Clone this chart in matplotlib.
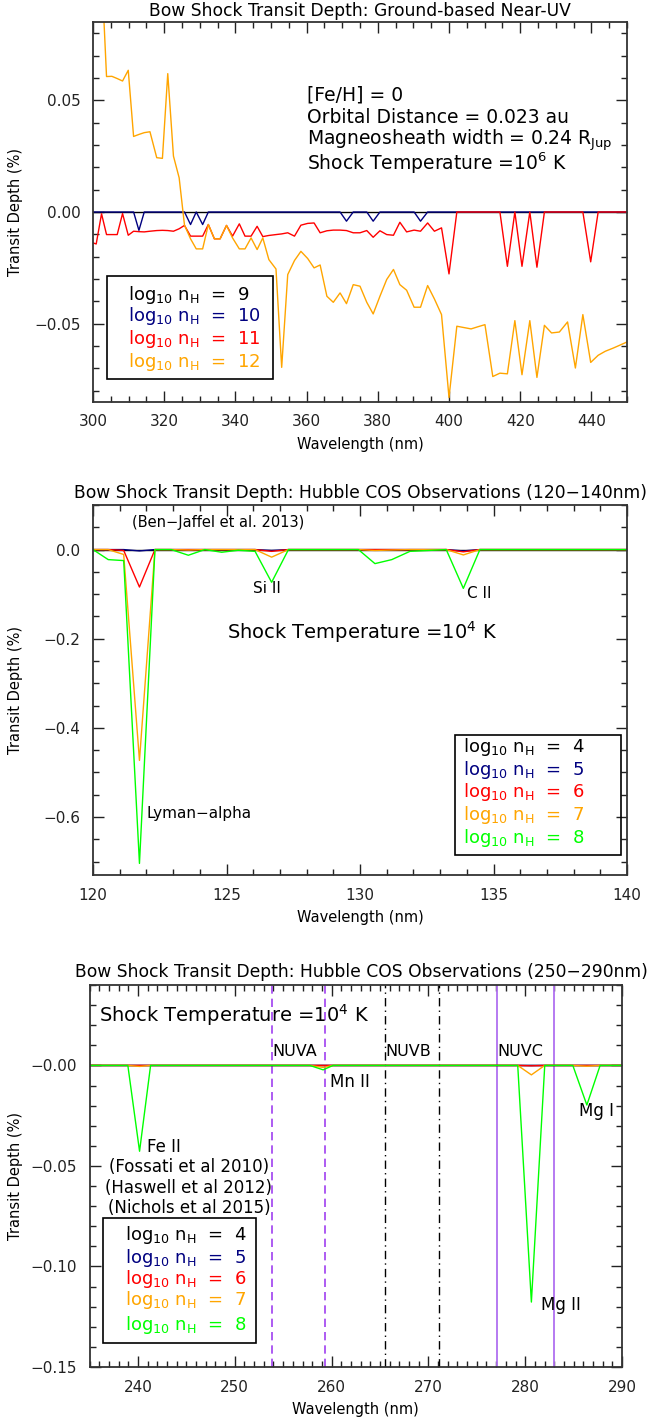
import matplotlib
matplotlib.use("Agg")
import matplotlib.pyplot as plt
from matplotlib.patches import Rectangle
from matplotlib.ticker import MultipleLocator, FixedLocator, FixedFormatter

plt.rcParams['font.family'] = ['DejaVu Sans']
plt.rcParams['mathtext.fontset'] = 'dejavusans'

# ---------------- panel 1 : ground based near-UV (log nH = 9..12, T = 1e6 K)
wl_nuv = [299.4, 300.9, 302.4, 303.8, 305.3, 306.8, 308.3, 309.9, 311.4, 312.9,
          314.4, 316.0, 317.9, 319.5, 321.0, 322.6, 324.2, 325.7, 327.4, 329.0,
          330.8, 332.4, 334.1, 335.7, 337.5, 339.2, 341.1, 342.7, 344.4, 346.1,
          347.7, 349.4, 351.4, 353.0, 354.7, 356.6, 358.4, 360.3, 362.1, 363.8,
          365.7, 367.5, 369.4, 371.2, 373.1, 375.0, 376.9, 378.7, 380.6, 382.5,
          384.4, 386.2, 388.1, 390.2, 392.0, 394.0, 395.9, 397.9, 400.0, 402.2,
          404.2, 406.2, 408.2, 410.1, 412.3, 414.3, 416.4, 418.5, 420.5, 422.7,
          424.7, 426.8, 428.8, 431.0, 433.3, 435.5, 437.6, 439.8, 441.9, 443.9,
          446.1, 448.1, 450.2]

nuv_n9 = [0.0] * len(wl_nuv)

nuv_n10 = [0.0, 0.0, 0.0, 0.0, 0.0, 0.0, 0.0, 0.0, 0.0, -0.0082,
           0.0, 0.0, 0.0, 0.0, 0.0, 0.0, 0.0, 0.0, -0.0056, 0.0,
           -0.0056, 0.0, 0.0, 0.0, 0.0, 0.0, 0.0, 0.0, 0.0, 0.0,
           0.0, 0.0, 0.0, 0.0, 0.0, 0.0, 0.0, 0.0, 0.0, 0.0,
           0.0, 0.0, 0.0, -0.0041, 0.0, 0.0, 0.0, -0.0041, 0.0, 0.0,
           0.0, 0.0, 0.0, 0.0, -0.0041, 0.0, 0.0, 0.0, 0.0, 0.0,
           0.0, 0.0, 0.0, 0.0, 0.0, 0.0, 0.0, 0.0, 0.0, 0.0,
           0.0, 0.0, 0.0, 0.0, 0.0, 0.0, 0.0, 0.0, 0.0, 0.0,
           0.0, 0.0, 0.0]

nuv_n11 = [-0.0135, -0.0143, -0.0008, -0.0101, -0.0101, -0.0101, -0.0007, -0.0104, -0.0086, -0.0088,
           -0.0089, -0.0086, -0.0083, -0.0082, -0.0083, -0.0086, -0.0075, -0.0060, -0.0108, -0.0108,
           -0.0108, -0.0056, -0.0120, -0.0120, -0.0060, -0.0108, -0.0053, -0.0108, -0.0108, -0.0064,
           -0.0110, -0.0105, -0.0101, -0.0098, -0.0093, -0.0108, -0.0059, -0.0051, -0.0049, -0.0093,
           -0.0084, -0.0081, -0.0081, -0.0083, -0.0093, -0.0093, -0.0083, -0.0113, -0.0084, -0.0101,
           -0.0104, -0.0046, -0.0089, -0.0081, -0.0086, -0.0049, -0.0086, -0.0071, -0.0277, 0.0,
           0.0, 0.0, 0.0, 0.0, 0.0, 0.0, -0.0243, 0.0, -0.0243, 0.0,
           -0.0247, 0.0, 0.0, 0.0, 0.0, 0.0, 0.0, -0.0223, 0.0, 0.0,
           0.0, 0.0, 0.0]

nuv_n12 = [0.150, 0.130, 0.109, 0.0606, 0.0607, 0.0597, 0.0586, 0.0634, 0.0338, 0.0347,
           0.0355, 0.0359, 0.0243, 0.0240, 0.0619, 0.0250, 0.0153, -0.0059, -0.0120, -0.0165,
           -0.0165, -0.0056, -0.0120, -0.0120, -0.0060, -0.0116, -0.0165, -0.0165, -0.0116, -0.0168,
           -0.0116, -0.0213, -0.0255, -0.0695, -0.0280, -0.0217, -0.0176, -0.0208, -0.0250, -0.0237,
           -0.0377, -0.0404, -0.0362, -0.0410, -0.0325, -0.0332, -0.0404, -0.0456, -0.0377, -0.0302,
           -0.0257, -0.0325, -0.0350, -0.0426, -0.0426, -0.0329, -0.0389, -0.0459, -0.0830, -0.0511,
           -0.0517, -0.0523, -0.0513, -0.0504, -0.0736, -0.0721, -0.0724, -0.0486, -0.0728, -0.0486,
           -0.0740, -0.0507, -0.0541, -0.0537, -0.0492, -0.0698, -0.0459, -0.0673, -0.0641, -0.0623,
           -0.0609, -0.0595, -0.0580]

# ---------------- panel 2 : COS 120-140 nm (log nH = 4..8, T = 1e4 K)
wl_fuv = [120.00, 120.57, 121.15, 121.74, 122.32, 122.93, 123.57, 124.19, 124.82, 125.44,
          126.07, 126.69, 127.32, 127.97, 128.63, 129.29, 129.94, 130.56, 131.19, 131.87,
          132.55, 133.23, 133.87, 134.49, 135.12, 135.75, 136.38, 137.01, 137.64, 138.27,
          138.90, 139.53, 140.16]

fuv_n4 = [0.0] * len(wl_fuv)
fuv_n5 = [0.0, 0.0, 0.0, -0.003, 0.0, 0.0, 0.0, 0.0, 0.0, 0.0,
          0.0, -0.002, 0.0, 0.0, 0.0, 0.0, 0.0, 0.0, 0.0, 0.0,
          0.0, 0.0, -0.003, 0.0, 0.0, 0.0, 0.0, 0.0, 0.0, 0.0,
          0.0, 0.0, 0.0]
fuv_n6 = [0.0, 0.0, -0.002, -0.084, 0.0, 0.0, 0.0, 0.0, 0.0, 0.0,
          0.0, -0.004, 0.0, 0.0, 0.0, 0.0, 0.0, 0.0, 0.0, 0.0,
          0.0, 0.0, -0.005, 0.0, 0.0, 0.0, 0.0, 0.0, 0.0, 0.0,
          0.0, 0.0, 0.0]
fuv_n7 = [0.0, 0.0, -0.011, -0.473, 0.0, 0.0, -0.001, 0.0, 0.0, 0.0,
          0.0, -0.017, 0.0, 0.0, 0.0, 0.0, 0.0, -0.002, -0.001, 0.0,
          0.0, 0.0, -0.012, 0.0, 0.0, 0.0, 0.0, 0.0, 0.0, 0.0,
          0.0, 0.0, 0.0]
fuv_n8 = [0.0, -0.0225, -0.0247, -0.704, 0.0, 0.0, -0.0127, 0.0, -0.006, -0.0015,
          -0.004, -0.0734, 0.0, 0.0, 0.0, 0.0, 0.0, -0.0315, -0.0225, -0.004,
          -0.002, 0.0, -0.087, 0.0, 0.0, 0.0, 0.0, 0.0, 0.0, 0.0,
          0.0, 0.0, 0.0]

# ---------------- panel 3 : COS 250-290 nm (log nH = 4..8, T = 1e4 K)
wl_mid = [235.0, 237.7, 238.96, 240.17, 241.31, 244.0, 247.0, 250.0, 253.0, 256.0,
          257.75, 259.13, 260.16, 263.0, 266.0, 269.0, 272.0, 275.0, 277.8, 279.23,
          280.64, 282.02, 283.5, 284.92, 286.37, 287.74, 289.1, 290.5]

mid_n4 = [0.0] * len(wl_mid)
mid_n5 = [0.0] * len(wl_mid)
mid_n6 = [0.0, 0.0, 0.0, 0.0, 0.0, 0.0, 0.0, 0.0, 0.0, 0.0,
          0.0, 0.0, 0.0, 0.0, 0.0, 0.0, 0.0, 0.0, 0.0, 0.0,
          -0.0002, 0.0, 0.0, 0.0, 0.0, 0.0, 0.0, 0.0]
mid_n7 = [0.0, 0.0, 0.0, -0.0005, 0.0, 0.0, 0.0, 0.0, 0.0, 0.0,
          0.0, -0.001, 0.0, 0.0, 0.0, 0.0, 0.0, 0.0, 0.0, 0.0,
          -0.0047, 0.0, 0.0, 0.0, -0.0004, 0.0, 0.0, 0.0]
mid_n8 = [0.0, 0.0, 0.0, -0.0427, 0.0, 0.0, 0.0, 0.0, 0.0, 0.0,
          0.0, -0.0022, 0.0, 0.0, 0.0, 0.0, 0.0, 0.0, 0.0, 0.0,
          -0.1177, 0.0, 0.0, 0.0, -0.0197, 0.0, 0.0, 0.0]

nuva_edges = [253.85, 259.37]
nuvb_edges = [265.5, 271.1]
nuvc_edges = [277.05, 283.0]

c_black, c_blue, c_red, c_orange, c_green = 'black', '#000080', '#ff0000', '#ffa500', '#00ff00'
W, H = 655, 1418
title_fs = 12.3

fig = plt.figure(figsize=(W / 100, H / 100), dpi=100)


def add_ax(l, t, r, b):
    return fig.add_axes([l / W, 1 - b / H, (r - l) / W, (b - t) / H])


def style(ax, xmaj, xmin, ymin_step, left_px, width_px, height_px):
    ax.xaxis.set_major_locator(MultipleLocator(xmaj))
    ax.xaxis.set_minor_locator(MultipleLocator(xmin))
    ax.yaxis.set_minor_locator(MultipleLocator(ymin_step))
    ax.tick_params(which='both', direction='in', top=True, right=True,
                   labelsize=11, colors='#222222', width=1.0)
    ax.tick_params(which='major', length=8, pad=9)
    ax.tick_params(which='minor', length=4)
    for s in ax.spines.values():
        s.set_linewidth(1.3)
        s.set_color('#333333')
    ax.set_xlabel('Wavelength (nm)', fontsize=10.5)
    ax.set_ylabel('Transit Depth (%)', fontsize=10.5)
    ax.xaxis.set_label_coords(0.5, -35 / height_px)
    ax.yaxis.set_label_coords((23 - left_px) / width_px, 0.5)


def box(ax, x0, x1, y0, y1):
    ax.add_patch(Rectangle((x0, y0), x1 - x0, y1 - y0, fill=False,
                           edgecolor='black', lw=1.2, zorder=5))


def legend_text(ax, x, ys, nums, cols):
    for y, n, c in zip(ys, nums, cols):
        ax.text(x, y, r'log$_{10}$ n$_{\rm H}$  =  ' + n, color=c,
                fontsize=13, va='center', ha='left', zorder=6)


lw = 1.0

# ---- top
ax1 = add_ax(93, 22, 627, 402)
ax1.plot(wl_nuv, nuv_n9, color=c_black, lw=lw)
ax1.plot(wl_nuv, nuv_n10, color=c_blue, lw=lw)
ax1.plot(wl_nuv, nuv_n11, color=c_red, lw=lw)
ax1.plot(wl_nuv, nuv_n12, color=c_orange, lw=lw)
ax1.set_xlim(300, 450)
ax1.set_ylim(-0.085, 0.085)
ax1.yaxis.set_major_locator(FixedLocator([-0.05, 0.0, 0.05]))
ax1.yaxis.set_major_formatter(FixedFormatter(['\u22120.05', '0.00', '0.05']))
style(ax1, 20, 5, 0.01, 93, 534, 380)
fig.text(360 / W, 1 - 11 / H, 'Bow Shock Transit Depth: Ground-based Near-UV',
         ha='center', va='center', fontsize=title_fs)
ann = ['[Fe/H] = 0', 'Orbital Distance = 0.023 au',
       r'Magneosheath width = 0.24 R$_{\rm Jup}$', r'Shock Temperature =10$^6$ K']
for y, s in zip([0.0523, 0.0422, 0.0322, 0.0220], ann):
    ax1.text(360.0, y, s, fontsize=13.5, va='center', ha='left')
box(ax1, 303.85, 350.5, -0.0747, -0.0288)
legend_text(ax1, 309.7, [-0.0370, -0.0467, -0.0569, -0.0669],
            ['9', '10', '11', '12'], [c_black, c_blue, c_red, c_orange])

# ---- middle
ax2 = add_ax(93, 505, 627, 875)
ax2.plot(wl_fuv, fuv_n4, color=c_black, lw=lw)
ax2.plot(wl_fuv, fuv_n5, color=c_blue, lw=lw)
ax2.plot(wl_fuv, fuv_n6, color=c_red, lw=lw)
ax2.plot(wl_fuv, fuv_n7, color=c_orange, lw=lw)
ax2.plot(wl_fuv, fuv_n8, color=c_green, lw=lw)
ax2.set_xlim(120, 140)
ax2.set_ylim(-0.73, 0.1)
ax2.yaxis.set_major_locator(FixedLocator([-0.6, -0.4, -0.2, 0.0]))
ax2.yaxis.set_major_formatter(FixedFormatter(['\u22120.6', '\u22120.4', '\u22120.2', '0.0']))
style(ax2, 5, 1, 0.05, 93, 534, 370)
fig.text(360 / W, 1 - 493 / H,
         'Bow Shock Transit Depth: Hubble COS Observations (120\u2212140nm)',
         ha='center', va='center', fontsize=title_fs)
ax2.text(121.45, 0.061, '(Ben\u2212Jaffel et al. 2013)', fontsize=10.5, va='center')
ax2.text(125.99, -0.0876, 'Si II', fontsize=11, va='center')
ax2.text(134.0, -0.099, 'C II', fontsize=11, va='center')
ax2.text(122.01, -0.592, 'Lyman\u2212alpha', fontsize=11, va='center')
ax2.text(125.0, -0.186, r'Shock Temperature =10$^4$ K', fontsize=14, va='center')
box(ax2, 133.56, 139.78, -0.685, -0.416)
legend_text(ax2, 133.86, [-0.443, -0.494, -0.544, -0.596, -0.647],
            ['4', '5', '6', '7', '8'], [c_black, c_blue, c_red, c_orange, c_green])

# ---- bottom
ax3 = add_ax(89.5, 985, 622, 1367)
for x in nuva_edges:
    ax3.axvline(x, color='#a040f0', ls=(0, (5, 3)), lw=1.2)
for x in nuvb_edges:
    ax3.axvline(x, color='black', ls=(0, (6, 3, 1, 3)), lw=1.0)
for x in nuvc_edges:
    ax3.axvline(x, color='#b070f0', ls='-', lw=1.3)
ax3.plot(wl_mid, mid_n4, color=c_black, lw=lw)
ax3.plot(wl_mid, mid_n5, color=c_blue, lw=lw)
ax3.plot(wl_mid, mid_n6, color=c_red, lw=lw)
ax3.plot(wl_mid, mid_n7, color=c_orange, lw=lw)
ax3.plot(wl_mid, mid_n8, color=c_green, lw=lw)
ax3.set_xlim(235, 290)
ax3.set_ylim(-0.15, 0.04)
ax3.yaxis.set_major_locator(FixedLocator([-0.15, -0.10, -0.05, 0.0]))
ax3.yaxis.set_major_formatter(FixedFormatter(['\u22120.15', '\u22120.10', '\u22120.05', '\u22120.00']))
style(ax3, 10, 1, 0.01, 89.5, 532.5, 382)
fig.text(361 / W, 1 - 972 / H,
         'Bow Shock Transit Depth: Hubble COS Observations (250\u2212290nm)',
         ha='center', va='center', fontsize=title_fs)
ax3.text(236.0, 0.0249, r'Shock Temperature =10$^4$ K', fontsize=14, va='center')
for xc, s in zip([256.2, 267.9, 279.5], ['NUVA', 'NUVB', 'NUVC']):
    ax3.text(xc, 0.007, s, fontsize=11.5, va='center', ha='center')
ax3.text(259.85, -0.008, 'Mn II', fontsize=12, va='center')
ax3.text(240.9, -0.0406, 'Fe II', fontsize=12, va='center')
for y, s in zip([-0.0505, -0.0608, -0.0708],
                ['(Fossati et al 2010)', '(Haswell et al 2012)', '(Nichols et al 2015)']):
    ax3.text(245.26, y, s, fontsize=12, va='center', ha='center')
ax3.text(281.6, -0.119, 'Mg II', fontsize=12, va='center')
ax3.text(285.6, -0.0229, 'Mg I', fontsize=12, va='center')
box(ax3, 236.43, 252.2, -0.138, -0.0758)
legend_text(ax3, 238.67, [-0.0844, -0.0957, -0.1064, -0.1168, -0.1289],
            ['4', '5', '6', '7', '8'], [c_black, c_blue, c_red, c_orange, c_green])

fig.savefig('out.png', dpi=100)
